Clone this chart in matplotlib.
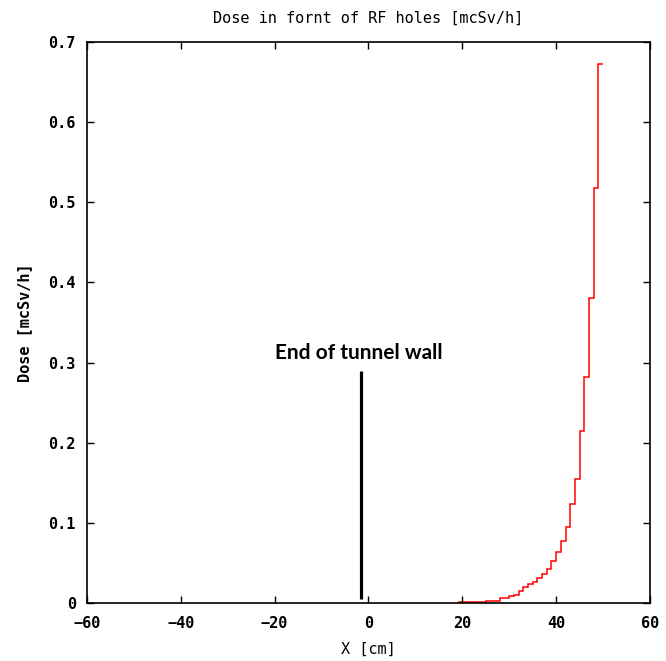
import numpy as np
import matplotlib
matplotlib.use("Agg")
import matplotlib.pyplot as plt

# 1 cm bins, dose per bin [mcSv/h]
bin_edges = [19, 20, 21, 22, 23, 24, 25, 26, 27, 28, 29, 30, 31, 32, 33, 34,
             35, 36, 37, 38, 39, 40, 41, 42, 43, 44, 45, 46, 47, 48, 49, 50]
dose = [0.001, 0.001, 0.001, 0.001, 0.001, 0.001, 0.003, 0.003, 0.003,
        0.006, 0.006, 0.009, 0.010, 0.015, 0.020, 0.024, 0.026, 0.031,
        0.036, 0.043, 0.052, 0.064, 0.078, 0.095, 0.124, 0.155, 0.215,
        0.282, 0.380, 0.518, 0.672]

wall_x = -1.5
wall_y = [0.005, 0.29]
wall_label = "End of tunnel wall"

x_ticks = [-60, -40, -20, 0, 20, 40, 60]
y_ticks = [0, 0.1, 0.2, 0.3, 0.4, 0.5, 0.6, 0.7]
y_tick_labels = ["0", "0.1", "0.2", "0.3", "0.4", "0.5", "0.6", "0.7"]

mono = "DejaVu Sans Mono"

fig = plt.figure(figsize=(6.66, 6.61), dpi=100)
ax = fig.add_axes([0.1306, 0.0877, 0.8454, 0.8488])

# no drop back to zero at the ends, like gnuplot's "histeps"
ax.stairs(dose, bin_edges, color="red", linewidth=1.1, baseline=None)
ax.plot([wall_x, wall_x], wall_y, color="black", linewidth=2.3, solid_capstyle="butt")
ax.text(wall_x - 0.5, 0.312, wall_label, ha="center", va="center",
        fontsize=15, fontweight="bold", family="Lato")

ax.set_xlim(-60, 60)
ax.set_ylim(0, 0.7)
ax.set_xticks(x_ticks)
ax.set_yticks(y_ticks)
ax.set_yticklabels(y_tick_labels)

ax.tick_params(direction="in", length=5, width=1, top=True, right=True)
ax.tick_params(axis="x", pad=9)
ax.tick_params(axis="y", pad=8)
for lab in ax.get_xticklabels() + ax.get_yticklabels():
    lab.set_family(mono)
    lab.set_fontweight("bold")
    lab.set_fontsize(11)

for s in ax.spines.values():
    s.set_linewidth(1.2)

ax.set_title("Dose in fornt of RF holes [mcSv/h]", family=mono, fontsize=11, pad=14)
ax.set_xlabel("X [cm]", family=mono, fontsize=11, labelpad=8)
ax.set_ylabel("Dose [mcSv/h]", family=mono, fontsize=11, fontweight="bold", labelpad=12)

fig.savefig("out.png", dpi=100)
